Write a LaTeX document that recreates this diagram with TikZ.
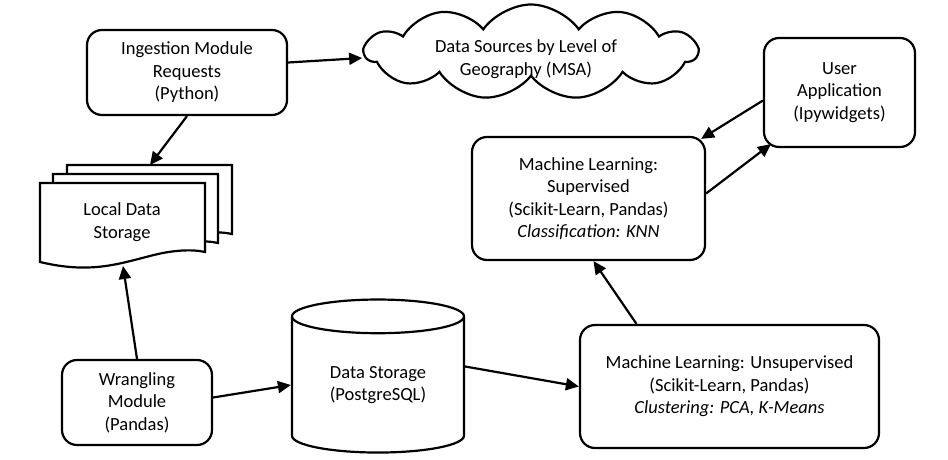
\documentclass[tikz,border=0pt]{standalone}
\usepackage{fontspec}
\setmainfont{Carlito}
\usetikzlibrary{arrows.meta,shapes.geometric,shapes.symbols}

\tikzset{
  modbox/.style={draw, line width=2.2pt, rounded corners=15pt, align=center,
    font=\fontsize{18.5}{22.5}\selectfont, inner sep=0pt},
  arr/.style={line width=2.2pt, -{Triangle[length=13pt,width=12pt]}},
  txt/.style={align=center, font=\fontsize{18.5}{22.5}\selectfont}
}

\begin{document}
\begin{tikzpicture}[x=1pt,y=-1pt]
\useasboundingbox (0,0) rectangle (948,460);

% modules
\node [modbox, minimum width=200, minimum height=85] (ingest) at (187,72.5)
  {Ingestion Module\\Requests\\(Python)};
\node [modbox, minimum width=150, minimum height=85] (wrangle) at (137,402.5)
  {Wrangling\\Module\\(Pandas)};
\node [modbox, minimum width=151, minimum height=109] (user) at (839.5,92.5)
  {User\\Application\\(Ipywidgets)};
\node [modbox, minimum width=233, minimum height=123] (sup) at (588.5,198.5)
  {Machine Learning:\\Supervised\\(Scikit-Learn, Pandas)\\\textit{Classification: KNN}};
\node [modbox, minimum width=299, minimum height=123] (unsup) at (729.5,386.5)
  {Machine Learning: Unsupervised\\(Scikit-Learn, Pandas)\\\textit{Clustering: PCA, K-Means}};

% data sources cloud
\node [draw, line width=2.2pt, cloud, cloud puffs=11, cloud puff arc=110,
  aspect=3.5, minimum width=332, minimum height=95, inner sep=0pt] (sources) at (531,52) {};
\node [txt] (sourcestext) at (526,59) {Data Sources by Level of\\Geography (MSA)};

% database
\node [txt, draw, line width=2.2pt, cylinder, shape border rotate=90, aspect=0.35,
  minimum width=172, minimum height=153, inner sep=0pt] (db) at (378,385)
  {Data Storage\\(PostgreSQL)};

% stack of local documents
\foreach \dx/\dy in {27/-18,13/-9,0/0}{
  \draw [line width=2.2pt, fill=white, shift={(\dx,\dy)}]
    (40,262) -- (40,183) -- (205,183) -- (205,252)
    .. controls (192,249) and (172,250) .. (150,256)
    .. controls (118,264) and (90,274) .. (40,262) -- cycle;
}
\node [txt] (local) at (122,222) {Local Data\\Storage};
\coordinate (stacktop) at (150,165);
\coordinate (stackbot) at (123,266);

% connectors
\draw [arr] ([yshift=10pt]ingest.east) -- ([yshift=-6pt]sources.west);
\draw [arr] (ingest.south) -- (stacktop);
\draw [arr] (wrangle.north) -- (stackbot);
\draw [arr] ([yshift=5pt]wrangle.east) -- (db.180);
\draw [arr] (db.12) -- (unsup.west);
\draw [arr] ([xshift=-93pt]unsup.north) -- ([xshift=5pt]sup.south);
\draw [arr] ([yshift=-8pt]user.west) -- ([shift={(-5pt,-3pt)}]sup.north east);
\draw [arr] ([yshift=5pt]sup.east) -- ([shift={(8pt,4pt)}]user.south west);
\end{tikzpicture}
\end{document}
